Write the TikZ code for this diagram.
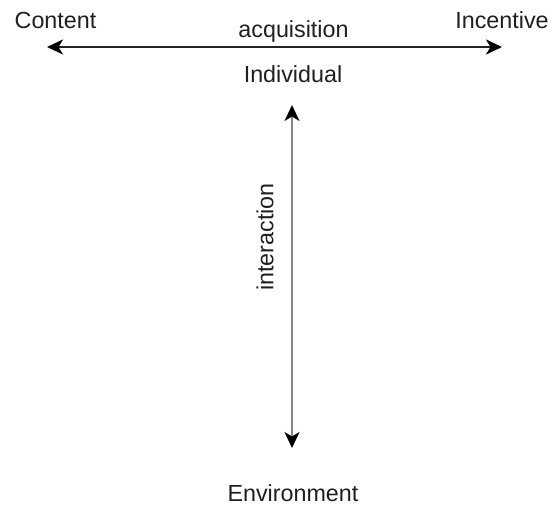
\documentclass[tikz,border=0pt]{standalone}
\usepackage{fontspec}
\setmainfont{Liberation Sans}
\usetikzlibrary{arrows.meta}
\definecolor{hline}{HTML}{222222}
\definecolor{vline}{HTML}{888888}
\tikzset{
  lbl/.style={inner sep=0pt, anchor=base, font=\fontsize{23.3}{28}\selectfont, text=black!88},
  conn/.style={line width=2.3pt, {Stealth[length=16pt,width=15pt,inset=4.5pt,color=black]}-{Stealth[length=16pt,width=15pt,inset=4.5pt,color=black]}},
}
\begin{document}
\begin{tikzpicture}[x=1pt,y=-1pt]
\useasboundingbox (0,0) rectangle (552,506);
\node[lbl] (content) at (55.5,28) {Content};
\node[lbl] (incentive) at (502,28) {Incentive};
\node[lbl] (acq) at (293.5,37) {acquisition};
\node[lbl] (indiv) at (293,82) {Individual};
\node[lbl] (env) at (293,501.5) {Environment};
\node[lbl, rotate=90, anchor=center] (inter) at (265,237) {interaction};
\coordinate (hl) at (47,47);
\coordinate (hr) at (502,47);
\coordinate (vt) at (292,105);
\coordinate (vb) at (292,448);
\draw[conn, draw=hline] (hl) -- (hr);
\draw[conn, draw=vline] (vt) -- (vb);
\end{tikzpicture}
\end{document}
